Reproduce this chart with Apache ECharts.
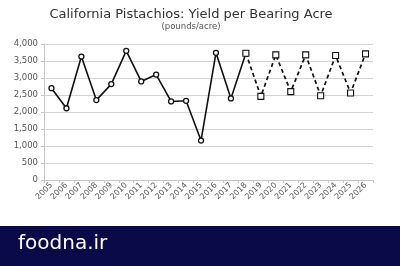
<!DOCTYPE html>
<html><head><meta charset="utf-8">
<script src="https://cdn.jsdelivr.net/npm/echarts@6/dist/echarts.min.js"></script>
<style>html,body{margin:0;padding:0;background:#fff}#c{width:400px;height:266px}</style>
</head><body><div id="c"></div>
<script>
const years = ['2005','2006','2007','2008','2009','2010','2011','2012','2013','2014','2015','2016','2017','2018','2019','2020','2021','2022','2023','2024','2025','2026'];
const actual = [2700,2110,3630,2350,2820,3800,2900,3100,2310,2330,1160,3740,2400,3730,null,null,null,null,null,null,null,null];
const projected = [null,null,null,null,null,null,null,null,null,null,null,null,null,3730,2460,3680,2600,3680,2480,3660,2560,3710];
const yTicks = [0,500,1000,1500,2000,2500,3000,3500,4000];

const chart = echarts.init(document.getElementById('c'));
chart.setOption({
  animation:false,
  title:{text:'California Pistachios: Yield per Bearing Acre',subtext:'(pounds/acre)',left:186,textAlign:'center',top:3,itemGap:1,
    textStyle:{fontFamily:'DejaVu Sans',fontSize:13,fontWeight:'normal',color:'#333'},
    subtextStyle:{fontFamily:'DejaVu Sans',fontSize:8.5,color:'#555'}},
  grid:{left:44,right:27,top:44,bottom:86},
  xAxis:{type:'category',data:years,boundaryGap:true,
    axisLine:{lineStyle:{color:'#c8c8c8'}},
    axisTick:{show:true,lineStyle:{color:'#c8c8c8'},length:3},
    axisLabel:{rotate:45,fontSize:8,color:'#555',fontFamily:'DejaVu Sans',margin:4,interval:0}},
  yAxis:{type:'value',min:yTicks[0],max:yTicks[yTicks.length-1],interval:500,
    axisLine:{show:true,lineStyle:{color:'#c8c8c8'}},
    axisTick:{show:true,lineStyle:{color:'#c8c8c8'},length:3},
    splitLine:{lineStyle:{color:'#d4d4d4'}},
    axisLabel:{fontSize:8.5,color:'#555',fontFamily:'DejaVu Sans',margin:6,
      formatter:v=>v.toLocaleString('en-US')}},
  series:[
    {type:'line',data:actual,symbol:'circle',symbolSize:5,connectNulls:false,
      lineStyle:{color:'#111',width:1.6},itemStyle:{color:'#fff',borderColor:'#111',borderWidth:1.3}},
    {type:'line',data:projected,symbol:'rect',symbolSize:6,
      lineStyle:{color:'#111',width:1.7,type:[4,3]},itemStyle:{color:'#fff',borderColor:'#111',borderWidth:1.1}}
  ],
  graphic:[
    {type:'rect',left:0,top:226,shape:{width:400,height:40},style:{fill:'#0b0a48'}},
    {type:'text',left:18,top:234,style:{text:'foodna.ir',fill:'#fff',font:'20px "DejaVu Sans"'}}
  ]
});
</script></body></html>
